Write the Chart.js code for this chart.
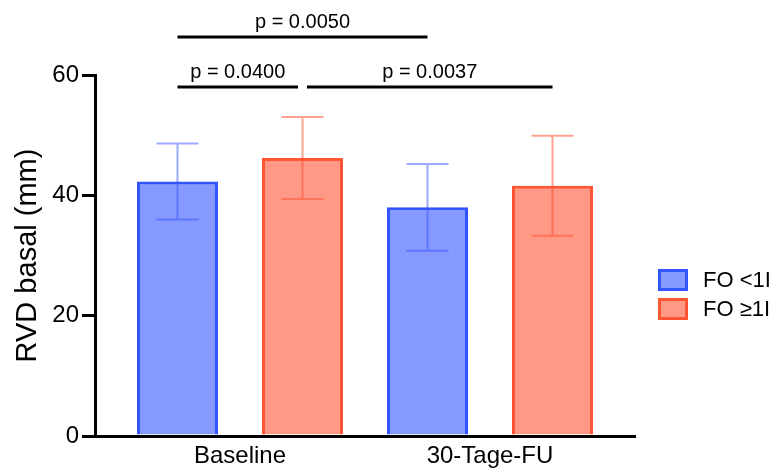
<!DOCTYPE html>
<html>
<head>
<meta charset="utf-8">
<script src="https://cdn.jsdelivr.net/npm/chart.js@4/dist/chart.umd.min.js"></script>
<style>
  body { margin: 0; background: #fff; }
</style>
</head>
<body>
<canvas id="rvdChart" width="776" height="468"></canvas>
<script>
// values
const categories = ['Baseline', '30-Tage-FU'];
const seriesLabels = ['FO <1I', 'FO \u22651I'];
const foLowMean = [42.3, 38.0];
const foLowSd = [6.3, 7.2];
const foHighMean = [46.2, 41.6];
const foHighSd = [6.8, 8.3];
const yTicks = [0, 20, 40, 60];

// significance brackets: [dataset, category] at each end
const bracketStart = [[0, 0], [0, 0], [1, 0]];
const bracketEnd = [[0, 1], [1, 0], [1, 1]];
const bracketText = ['p = 0.0050', 'p = 0.0400', 'p = 0.0037'];
const bracketLevel = [1, 0, 0];

const FONT = "'Liberation Sans', Arial, sans-serif";
const BLUE = '#3355FF';
const RED = '#FF5533';

const errorBars = {
    id: 'errorBars',
    afterDatasetsDraw(chart) {
        const ctx = chart.ctx;
        const y = chart.scales.y;
        chart.data.datasets.forEach((ds, di) => {
            const meta = chart.getDatasetMeta(di);
            meta.data.forEach((bar, i) => {
                const top = y.getPixelForValue(ds.data[i] + ds.sd[i]);
                const bot = y.getPixelForValue(ds.data[i] - ds.sd[i]);
                ctx.save();
                ctx.strokeStyle = ds.errorColor;
                ctx.lineWidth = 2;
                ctx.beginPath();
                ctx.moveTo(bar.x, top); ctx.lineTo(bar.x, bot);
                ctx.moveTo(bar.x - 21, top); ctx.lineTo(bar.x + 21, top);
                ctx.moveTo(bar.x - 21, bot); ctx.lineTo(bar.x + 21, bot);
                ctx.stroke();
                ctx.restore();
            });
        });
    }
};

const brackets = {
    id: 'brackets',
    afterDraw(chart) {
        const ctx = chart.ctx;
        const area = chart.chartArea;
        const barX = (p) => chart.getDatasetMeta(p[0]).data[p[1]].x;
        const same = (a, b) => a[0] === b[0] && a[1] === b[1];
        ctx.save();
        ctx.strokeStyle = '#000';
        ctx.fillStyle = '#000';
        ctx.lineWidth = 3;
        ctx.font = '20px ' + FONT;
        ctx.textAlign = 'center';
        ctx.textBaseline = 'alphabetic';
        bracketText.forEach((txt, k) => {
            const lvl = bracketLevel[k];
            // shorten where two brackets on one row meet at a bar
            let inL = 0, inR = 0;
            bracketText.forEach((_, j) => {
                if (j === k || bracketLevel[j] !== lvl) return;
                if (same(bracketStart[k], bracketEnd[j])) inL = 4.5;
                if (same(bracketEnd[k], bracketStart[j])) inR = 4.5;
            });
            const x1 = barX(bracketStart[k]) + inL;
            const x2 = barX(bracketEnd[k]) - inR;
            const ly = area.top + 12 - lvl * 50;
            ctx.beginPath();
            ctx.moveTo(x1, ly); ctx.lineTo(x2, ly);
            ctx.stroke();
            ctx.fillText(txt, (x1 + x2) / 2, ly - 9);
        });
        ctx.restore();
    }
};

const sideLegend = {
    id: 'sideLegend',
    afterDraw(chart) {
        const ctx = chart.ctx;
        const area = chart.chartArea;
        const x0 = area.right + 23;
        ctx.save();
        ctx.font = '22px ' + FONT;
        ctx.textBaseline = 'middle';
        chart.data.datasets.forEach((ds, i) => {
            const cy = 280 + i * 29;
            ctx.fillStyle = ds.backgroundColor;
            ctx.fillRect(x0, cy - 11, 30, 22);
            ctx.strokeStyle = ds.borderColor;
            ctx.lineWidth = 3;
            ctx.strokeRect(x0 + 1.5, cy - 9.5, 27, 19);
            ctx.fillStyle = '#000';
            ctx.fillText(ds.label, x0 + 45, cy + 1);
        });
        ctx.restore();
    }
};

new Chart(document.getElementById('rvdChart'), {
    type: 'bar',
    data: {
        labels: categories,
        datasets: [{
            label: seriesLabels[0],
            data: foLowMean,
            sd: foLowSd,
            backgroundColor: 'rgba(51, 85, 255, 0.6)',
            borderColor: BLUE,
            errorColor: 'rgba(51, 85, 255, 0.5)',
            borderWidth: 3
        }, {
            label: seriesLabels[1],
            data: foHighMean,
            sd: foHighSd,
            backgroundColor: 'rgba(255, 85, 51, 0.6)',
            borderColor: RED,
            errorColor: 'rgba(255, 85, 51, 0.55)',
            borderWidth: 3
        }]
    },
    options: {
        responsive: false,
        animation: false,
        categoryPercentage: 1,
        barPercentage: 0.648,
        layout: { padding: { top: 75, right: 141, bottom: 0, left: 0 } },
        plugins: { legend: { display: false }, tooltip: { enabled: false } },
        scales: {
            x: {
                grid: { display: false },
                border: { color: '#000', width: 3 },
                ticks: { color: '#000', font: { family: FONT, size: 24 }, padding: -2, maxRotation: 0 },
                // leave ~20px between the axis ends and the outer bars
                afterBuildTicks: s => { s._startValue = -0.58; s._valueRange = 2.16; },
                afterFit: s => { s.height = 32; }
            },
            y: {
                min: 0,
                max: 60,
                afterBuildTicks: s => { s.ticks = yTicks.map(v => ({ value: v })); },
                grid: { drawOnChartArea: false, color: '#000', lineWidth: 3, tickLength: 13 },
                border: { color: '#000', width: 3 },
                ticks: { color: '#000', font: { family: FONT, size: 24 }, padding: 3 },
                title: { display: true, text: 'RVD basal (mm)', color: '#000', font: { family: FONT, size: 29 }, padding: { top: 11, bottom: 0 } },
                afterFit: s => { s.width = 95; }
            }
        }
    },
    plugins: [errorBars, brackets, sideLegend]
});
</script>
</body>
</html>
